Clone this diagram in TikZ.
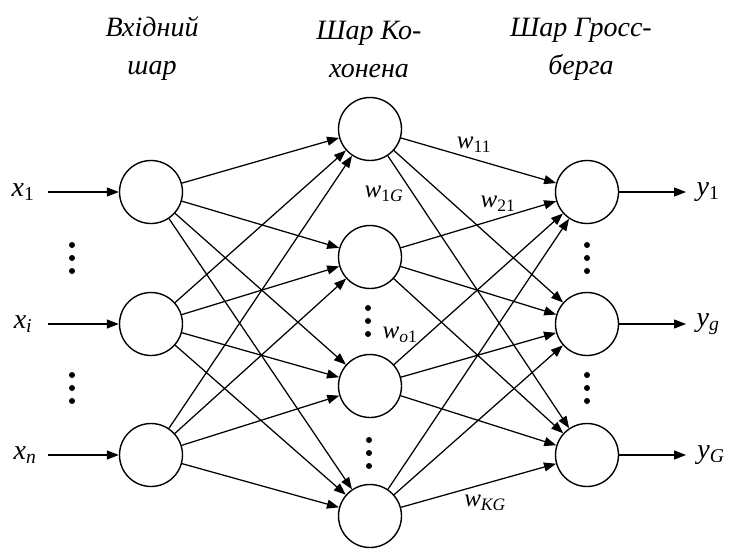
\documentclass[tikz,border=0pt]{standalone}
\usepackage{fontspec}
\setmainfont{Liberation Serif}
\usetikzlibrary{arrows.meta}
\newcommand\lo[1]{\textsubscript{#1}}
\begin{document}
\begin{tikzpicture}[x=1pt,y=-1pt,
  neuron/.style={circle,draw,line width=1.4pt,minimum size=63pt,inner sep=0pt},
  link/.style={-{Triangle[length=12pt,width=9pt]},line width=1.25pt},
  head/.style={font=\fontsize{28}{38}\selectfont\itshape,align=center},
  lab/.style={font=\fontsize{28}{32}\selectfont\itshape,inner sep=0pt},
  wt/.style={font=\fontsize{25}{28}\selectfont\itshape,inner sep=0pt},
  vdot/.style={circle,fill,inner sep=0pt,minimum size=6pt}]
\useasboundingbox (0,0) rectangle (732,549);

% layer headings
\node[head] (h1) at (152,49) {Вхідний\\шар};
\node[head] (h2) at (369,49) {Шар Ко-\\хонена};
\node[head] (h3) at (581,49) {Шар Гросс-\\берга};

% input layer
\node[neuron] (i1) at (151,192) {};
\node[neuron] (i2) at (151,324) {};
\node[neuron] (i3) at (151,455) {};

% Kohonen layer
\node[neuron] (k1) at (370,129) {};
\node[neuron] (k2) at (370,257) {};
\node[neuron] (k3) at (370,386) {};
\node[neuron] (k4) at (370,516) {};

% Grossberg layer
\node[neuron] (g1) at (587,192) {};
\node[neuron] (g2) at (587,324) {};
\node[neuron] (g3) at (587,455) {};

% inputs and outputs
\node[lab] (x1) at (23,192) {x\lo{\upshape 1}};
\node[lab] (x2) at (23,324) {x\lo{i}};
\node[lab] (x3) at (25,455) {x\lo{n}};
\coordinate (s1) at (48,192);
\coordinate (s2) at (48,324);
\coordinate (s3) at (48,455);
\node[lab] (y1) at (708,192) {y\lo{\upshape 1}};
\node[lab] (y2) at (708,324) {y\lo{g}};
\node[lab] (y3) at (711,455) {y\lo{G}};
\coordinate (e1) at (686,192);
\coordinate (e2) at (686,324);
\coordinate (e3) at (686,455);
\foreach \n in {1,2,3} {
  \draw[link] (s\n) -- (i\n);
  \draw[link] (g\n) -- (e\n);
}

% full connections between layers
\foreach \a in {1,2,3}
  \foreach \b in {1,2,3,4}
    \draw[link] (i\a) -- (k\b);
\foreach \a in {1,2,3,4}
  \foreach \b in {1,2,3}
    \draw[link] (k\a) -- (g\b);

% ellipsis dots
\foreach \cx/\cy in {72/258, 72/388, 587/258, 587/388, 368/321, 369/453}
  \foreach \d in {-13,0,13}
    \node[vdot] at (\cx,\cy+\d) {};

% weight labels
\node[wt] (w11) at (474,145) {w\lo{\upshape 11}};
\node[wt] (w1G) at (384,194) {w\lo{\upshape 1\itshape G}};
\node[wt] (w21) at (498,204) {w\lo{\upshape 21}};
\node[wt] (wo1) at (400,335) {w\lo{o\upshape 1}};
\node[wt] (wKG) at (485,503) {w\lo{KG}};
\end{tikzpicture}
\end{document}
